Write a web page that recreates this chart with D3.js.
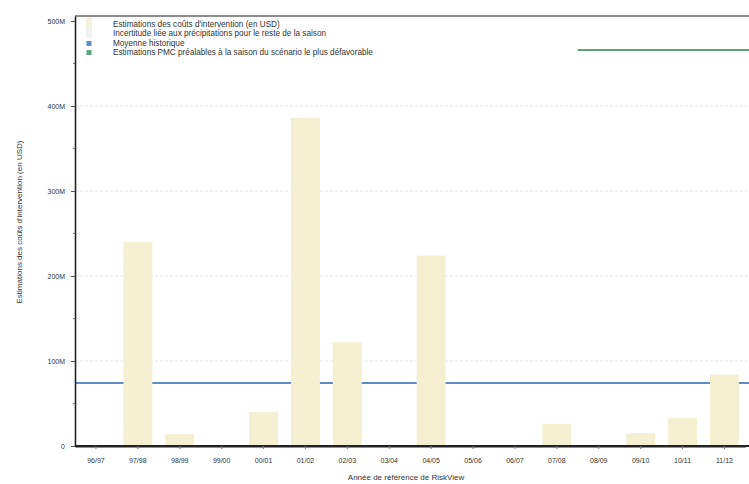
<!DOCTYPE html>
<html>
<head>
<meta charset="utf-8">
<script src="https://cdn.jsdelivr.net/npm/d3@7"></script>
<style>
  body { margin: 0; background: #fff; }
  svg { display: block; }
  text { font-family: "Liberation Sans Narrow", "Arial Narrow", "Liberation Sans", sans-serif; fill: #333; }
</style>
</head>
<body>
<svg id="chart" width="749" height="484"></svg>
<script>
// ---- data ----
const categories = ["96/97","97/98","98/99","99/00","00/01","01/02","02/03","03/04","04/05","05/06","06/07","07/08","08/09","09/10","10/11","11/12"];
const costValues = [0, 240, 14, 0, 40, 386, 122, 0, 224, 0, 0, 26, 0, 15, 33, 84]; // millions USD
const historicalAverage = 74;      // millions USD
const worstCaseEstimate = 466;     // millions USD
const worstCaseStart = "08/09";
const yTicks = [0, 100, 200, 300, 400, 500];
const legendItems = [
  "Estimations des coûts d'intervention (en USD)",
  "Incertitude liée aux précipitations pour le reste de la saison",
  "Moyenne historique",
  "Estimations PMC  préalables à la saison du scénario le plus défavorable"
];
const yTitle = "Estimations des coûts d'intervention (en USD)";
const xTitle = "Année de référence de RiskView";

// ---- layout ----
const svg = d3.select("#chart");
const mLeft = 75, mTop = 16, mBottom = 446, mRight = 749;
const step = 41.9;
const x = d3.scaleBand().domain(categories).range([mLeft, mLeft + step * categories.length]).paddingInner(0.31).paddingOuter(0.155);
const y = d3.scaleLinear().domain([0, 505.9]).range([mBottom, mTop]);

const colBar = "#f6f0d3", colBlue = "#5f8bc8", colGreen = "#5aa57a";

// gridlines
svg.append("g").selectAll("line").data(yTicks.filter(d => d > 0 && d < 500)).join("line")
  .attr("x1", mLeft).attr("x2", mRight)
  .attr("y1", d => y(d)).attr("y2", d => y(d))
  .attr("stroke", "#dce8ef").attr("stroke-width", 1).attr("stroke-dasharray", "3,2");

// historical average line (behind bars)
svg.append("line")
  .attr("x1", mLeft).attr("x2", mRight)
  .attr("y1", y(historicalAverage)).attr("y2", y(historicalAverage))
  .attr("stroke", colBlue).attr("stroke-width", 2);

// bars
svg.append("g").selectAll("rect").data(categories.map((c, i) => ({c, v: costValues[i]})).filter(d => d.v > 0)).join("rect")
  .attr("x", d => x(d.c)).attr("width", x.bandwidth())
  .attr("y", d => y(d.v)).attr("height", d => y(0) - y(d.v))
  .attr("fill", colBar);

// worst-case line
svg.append("line")
  .attr("x1", x(worstCaseStart) - x.step() * x.paddingInner() / 2).attr("x2", mRight)
  .attr("y1", y(worstCaseEstimate)).attr("y2", y(worstCaseEstimate))
  .attr("stroke", colGreen).attr("stroke-width", 2);

// top frame
svg.append("line").attr("x1", mLeft).attr("x2", mRight).attr("y1", mTop).attr("y2", mTop)
  .attr("stroke", "#666").attr("stroke-width", 1.5);

// y axis
const yAxis = svg.append("g").attr("transform", `translate(${mLeft},0)`)
  .call(d3.axisLeft(y).tickValues(yTicks).tickSize(4).tickSizeOuter(0).tickPadding(6).tickFormat(d => d === 0 ? "0" : d + "M"));
yAxis.select(".domain").attr("stroke", "#222").attr("stroke-width", 1.6);
yAxis.selectAll(".tick line").attr("stroke", "#555");
yAxis.selectAll("text").attr("font-size", 7).attr("fill", "#333");
// minor ticks
svg.append("g").selectAll("line").data(d3.range(50, 500, 100)).join("line")
  .attr("x1", mLeft - 2).attr("x2", mLeft).attr("y1", d => y(d)).attr("y2", d => y(d))
  .attr("stroke", "#777");

// x axis (baseline extends to the page edge)
svg.append("line").attr("x1", mLeft).attr("x2", mRight).attr("y1", mBottom).attr("y2", mBottom)
  .attr("stroke", "#222").attr("stroke-width", 1.8);
const xAxis = svg.append("g").attr("transform", `translate(0,${mBottom})`)
  .call(d3.axisBottom(x).tickSize(3).tickSizeOuter(0).tickPadding(9));
xAxis.select(".domain").attr("stroke", "#222").attr("stroke-width", 1.8);
xAxis.selectAll(".tick line").attr("stroke", "#777");
xAxis.selectAll("text").attr("font-size", 7).attr("fill", "#333");

// axis titles
svg.append("text").attr("transform", "translate(22,222) rotate(-90)")
  .attr("text-anchor", "middle").attr("font-size", 8).text(yTitle);
svg.append("text").attr("x", 406).attr("y", 480)
  .attr("text-anchor", "middle").attr("font-size", 8).text(xTitle);

// legend
const lg = svg.append("g");
const lx = 113, ly = 24, lh = 9.4;
lg.append("rect").attr("x", 86).attr("y", 17).attr("width", 6).attr("height", 11).attr("fill", "#f4f1de");
lg.append("rect").attr("x", 86).attr("y", 28).attr("width", 6).attr("height", 10).attr("fill", "#eef3f0");
lg.append("rect").attr("x", 86.5).attr("y", 41).attr("width", 5).attr("height", 5).attr("fill", colBlue);
lg.append("rect").attr("x", 86.5).attr("y", 50).attr("width", 5).attr("height", 5).attr("fill", colGreen);
lg.selectAll("text").data(legendItems).join("text")
  .attr("x", lx).attr("y", (d, i) => ly + i * lh + 3)
  .attr("font-size", 8.2).attr("fill", "#1a1a1a").text(d => d);
</script>
</body>
</html>
